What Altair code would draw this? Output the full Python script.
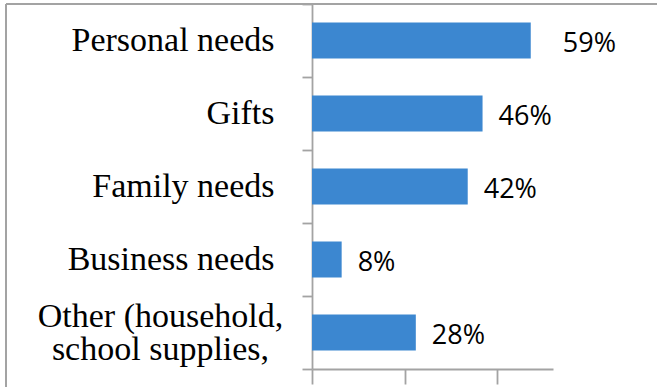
import altair as alt
import pandas as pd

categories = ["Personal needs", "Gifts", "Family needs", "Business needs",
              "Other (household,|school supplies,"]
shares = [0.59, 0.46, 0.42, 0.08, 0.28]
x_ticks = [0, 0.25, 0.5]

df = pd.DataFrame({"category": categories, "share": shares})

GRAY = "#a3a3a3"
BLUE = "#3c87d0"
multi_test = "indexof(datum.label, '|') >= 0"

y_enc = alt.Y(
    "category:N", sort=categories, title=None,
    scale=alt.Scale(paddingInner=0, paddingOuter=0),
    axis=alt.Axis(
        tickBand="extent", tickSize=10, tickColor=GRAY, tickWidth=1.8,
        domainColor=GRAY, domainWidth=1.8,
        labelFont="Liberation Serif", labelFontSize=34, labelColor="#000000",
        labelLimit=0, labelLineHeight=33,
        labelAlign={"condition": {"test": multi_test, "value": "center"}, "value": "right"},
        labelPadding={"condition": {"test": multi_test, "value": 142}, "value": 28},
        labelOffset={"condition": {"test": multi_test, "value": -16}, "value": 0},
        labelExpr="split(datum.label, '|')", grid=False,
    ),
)
x_enc = alt.X(
    "share:Q", title=None,
    scale=alt.Scale(domain=[0, 0.65], nice=False, zero=True),
    axis=alt.Axis(values=x_ticks, labels=False, tickSize=15, tickColor=GRAY,
                  tickWidth=1.8, domainColor=GRAY, domainWidth=1.8, grid=False),
)

bars = alt.Chart(df).mark_bar(color=BLUE, size=36).encode(x=x_enc, y=y_enc)

text_style = dict(align="left", baseline="middle", font="Open Sans",
                  fontSize=27, color="#000000", dy=3)
labels_main = alt.Chart(df).transform_filter(
    alt.datum.category != categories[0]
).mark_text(dx=16, **text_style).encode(
    x="share:Q", y=alt.Y("category:N", sort=categories),
    text=alt.Text("share:Q", format=".0%"),
)
labels_first = alt.Chart(df).transform_filter(
    alt.datum.category == categories[0]
).mark_text(dx=32, **text_style).encode(
    x="share:Q", y=alt.Y("category:N", sort=categories),
    text=alt.Text("share:Q", format=".0%"),
)

frame_data = alt.Data(values=[{"f": 1}])
frame_top = alt.Chart(frame_data).mark_rule(color=GRAY, strokeWidth=2).encode(
    x=alt.value(-306), x2=alt.value(345), y=alt.value(0))
frame_left = alt.Chart(frame_data).mark_rule(color=GRAY, strokeWidth=2).encode(
    x=alt.value(-306), y=alt.value(0), y2=alt.value(383))

chart = alt.layer(frame_top, frame_left, bars, labels_main, labels_first).properties(
    width=241, height=365,
    autosize=alt.AutoSizeParams(type="none"),
    padding={"left": 312, "top": 4, "right": 104, "bottom": 18},
).configure(background="white").configure_view(stroke=None)

chart.save("out.html", embed_options={"renderer": "svg", "actions": False})
